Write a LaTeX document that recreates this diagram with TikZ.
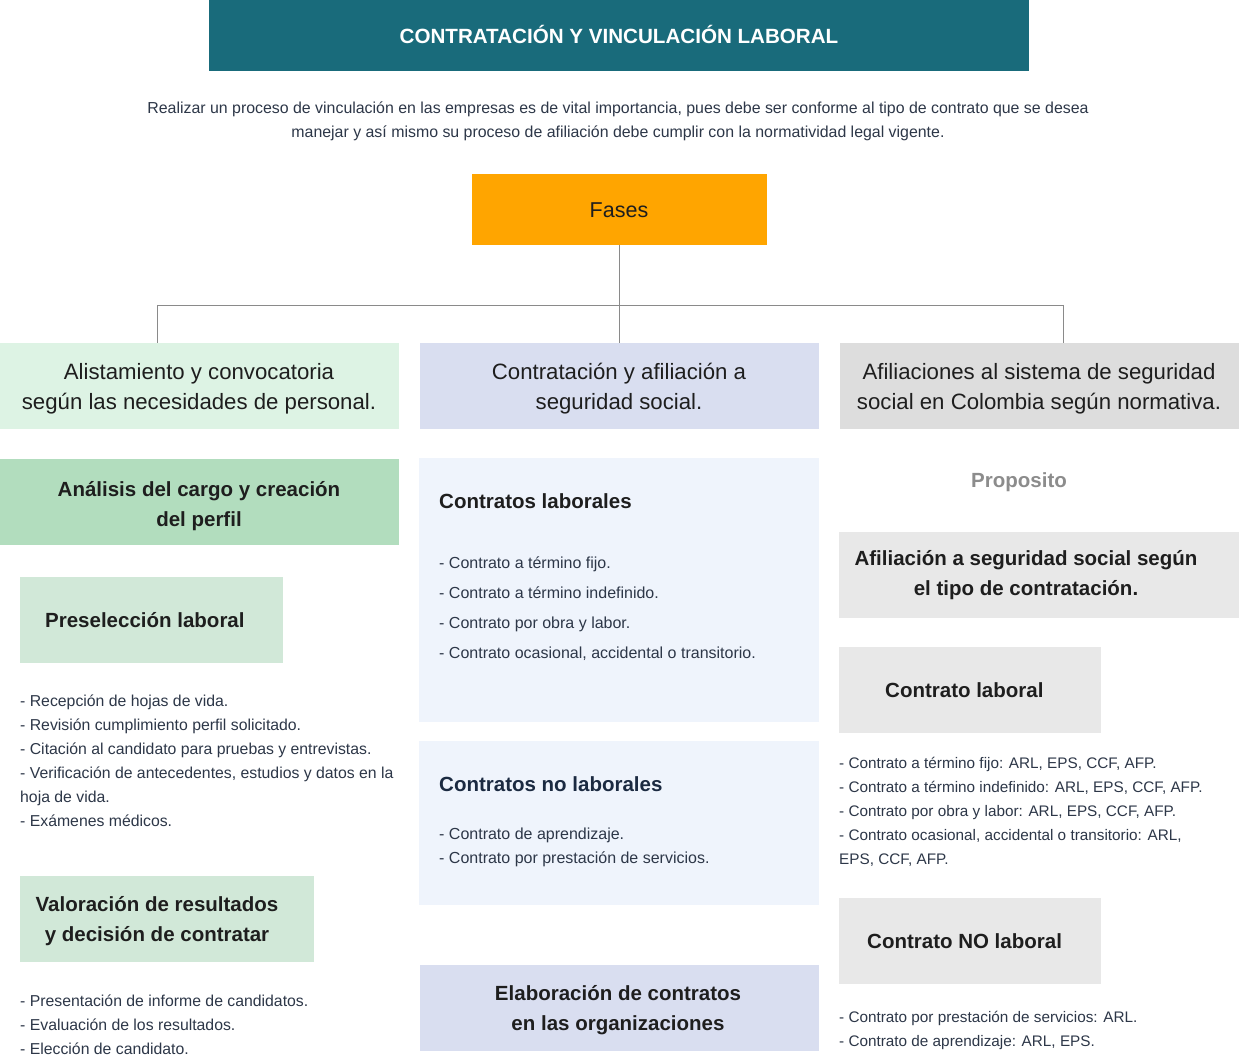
\documentclass[tikz,border=0pt]{standalone}
\usepackage{fontspec}
\setmainfont{Liberation Sans}
\definecolor{teal}{HTML}{196B7B}
\definecolor{orangeF}{HTML}{FFA500}
\definecolor{lgreen}{HTML}{DDF3E4}
\definecolor{mgreen}{HTML}{B2DDBE}
\definecolor{pgreen}{HTML}{D1E8D8}
\definecolor{lav}{HTML}{D9DEF0}
\definecolor{pblue}{HTML}{EFF4FC}
\definecolor{gA}{HTML}{DDDDDD}
\definecolor{gB}{HTML}{E8E8E8}
\definecolor{txt}{HTML}{1E1E1E}
\definecolor{ltxt}{HTML}{2D3748}
\definecolor{navy}{HTML}{1B2A41}
\definecolor{propc}{HTML}{8C8C8C}
\definecolor{linec}{HTML}{8A8A8A}
\begin{document}
\begin{tikzpicture}[x=1pt,y=-1pt,
  box/.style={draw=none,inner sep=0pt,outer sep=0pt,anchor=north west},
  big/.style={font=\fontsize{22.2}{30}\selectfont,text=txt,inner sep=0pt,align=center},
  bigb/.style={font=\fontsize{20.5}{30}\selectfont\bfseries,text=txt,inner sep=0pt,align=center},
  small/.style={font=\fontsize{15.8}{24}\selectfont,text=ltxt,inner sep=0pt,align=left,anchor=base west},
  conn/.style={draw=linec,line width=0.9pt}]
\useasboundingbox (0,0) rectangle (1239,1056);
\fill[white] (0,0) rectangle (1239,1056);

% title
\node[box,fill=teal,minimum width=820,minimum height=71] (title) at (209,0) {};
\node[font=\fontsize{20.6}{24}\selectfont\bfseries,text=white,anchor=base,inner sep=0pt] (titlet) at (619,43.5) {CONTRATACIÓN Y VINCULACIÓN LABORAL};
\node[font=\fontsize{15.9}{24}\selectfont,text=ltxt,anchor=base,align=center,inner sep=0pt] (intro) at (618,137.5)
 {Realizar un proceso de vinculación en las empresas es de vital importancia, pues debe ser conforme al tipo de contrato que se desea\\manejar y así mismo su proceso de afiliación debe cumplir con la normatividad legal vigente.};

% Fases
\node[box,fill=orangeF,minimum width=295,minimum height=71] (fases) at (472,174) {};
\node[font=\fontsize{21.5}{30}\selectfont,text=txt,inner sep=0pt,anchor=base] (fasest) at (619,218) {Fases};

% three boxes
\node[box,fill=lgreen,minimum width=399,minimum height=86] (b1) at (0,343) {};
\node[box,fill=lav,minimum width=399,minimum height=86] (b2) at (420,343) {};
\node[box,fill=gA,minimum width=399,minimum height=86] (b3) at (840,343) {};
\node[big,anchor=base] (b1t) at (199,409) {Alistamiento y convocatoria\\según las necesidades de personal.};
\node[big,anchor=base] (b2t) at (619,409) {Contratación y afiliación a\\seguridad social.};
\node[big,anchor=base] (b3t) at (1039,409) {Afiliaciones al sistema de seguridad\\social en Colombia según normativa.};

% connectors
\coordinate (j0) at (619.5,305);
\coordinate (jl) at (157,305);
\coordinate (jr) at (1063,305);
\draw[conn] (fases.south) -- (j0);
\draw[conn] (jl) -- (jr);
\draw[conn] (jl) -- (jl |- b1.north);
\draw[conn] (j0) -- (j0 |- b2.north);
\draw[conn] (jr) -- (jr |- b3.north);

% left column
\node[box,fill=mgreen,minimum width=399,minimum height=86] (l1) at (0,459) {};
\node[bigb,anchor=base] (l1t) at (199,526.5) {Análisis del cargo y creación\\del perfil};
\node[box,fill=pgreen,minimum width=263,minimum height=86] (l2) at (20,577) {};
\node[bigb,anchor=base west] (l2t) at (45,627.5) {Preselección laboral};
\node[small] (l2l) at (20,826) {- Recepción de hojas de vida.\\- Revisión cumplimiento perfil solicitado.\\- Citación al candidato para pruebas y entrevistas.\\- Verificación de antecedentes, estudios y datos en la\\hoja de vida.\\- Exámenes médicos.};
\node[box,fill=pgreen,minimum width=294,minimum height=86] (l3) at (20,876) {};
\node[bigb,anchor=base] (l3t) at (157,941.5) {Valoración de resultados\\ y decisión de contratar};
\node[small] (l3l) at (20,1054) {- Presentación de informe de candidatos.\\- Evaluación de los resultados.\\- Elección de candidato.};

% middle column
\node[box,fill=pblue,minimum width=400,minimum height=264] (m1) at (419,458) {};
\node[bigb,anchor=base west] (m1t) at (439,508.5) {Contratos laborales};
\node[small,font=\fontsize{16}{30}\selectfont] (m1l) at (439,658) {- Contrato a término fijo.\\- Contrato a término indefinido.\\- Contrato por obra y labor.\\- Contrato ocasional, accidental o transitorio.};
\node[box,fill=pblue,minimum width=400,minimum height=164] (m2) at (419,741) {};
\node[bigb,anchor=base west,text=navy] (m2t) at (439,791.5) {Contratos no laborales};
\node[small,font=\fontsize{16}{24}\selectfont] (m2l) at (439,863) {- Contrato de aprendizaje.\\- Contrato por prestación de servicios.};
\node[box,fill=lav,minimum width=399,minimum height=86] (m3) at (420,965) {};
\node[bigb,anchor=base] (m3t) at (618,1030.5) {Elaboración de contratos\\en las organizaciones};

% right column
\node[bigb,anchor=base,text=propc] (prop) at (1019,487.5) {Proposito};
\node[box,fill=gB,minimum width=400,minimum height=86] (r1) at (839,532) {};
\node[bigb,anchor=base] (r1t) at (1026,595.5) {Afiliación a seguridad social según\\el tipo de contratación.};
\node[box,fill=gB,minimum width=262,minimum height=86] (r2) at (839,647) {};
\node[bigb,anchor=base west] (r2t) at (885,697.5) {Contrato laboral};
\node[small,font=\fontsize{15.3}{24}\selectfont] (r2l) at (839,864) {- Contrato a término fijo: ARL, EPS, CCF, AFP.\\- Contrato a término indefinido: ARL, EPS, CCF, AFP.\\- Contrato por obra y labor: ARL, EPS, CCF, AFP.\\- Contrato ocasional, accidental o transitorio: ARL,\\EPS, CCF, AFP.};
\node[box,fill=gB,minimum width=262,minimum height=86] (r3) at (839,898) {};
\node[bigb,anchor=base west] (r3t) at (867,948.5) {Contrato NO laboral};
\node[small,font=\fontsize{15.3}{24}\selectfont] (r3l) at (839,1046) {- Contrato por prestación de servicios: ARL.\\- Contrato de aprendizaje: ARL, EPS.};
\end{tikzpicture}
\end{document}
